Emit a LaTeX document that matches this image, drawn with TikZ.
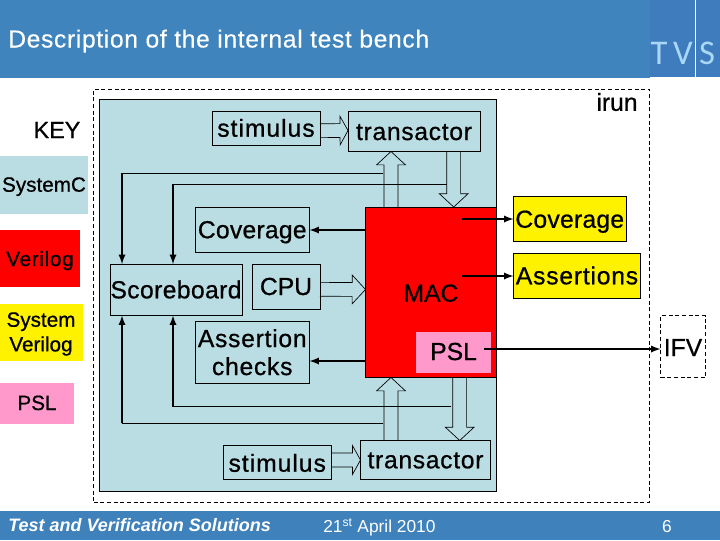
\documentclass[tikz,border=0pt]{standalone}
\usepackage{fontspec}
\setmainfont{Liberation Sans}
\newfontfamily\tvsfont{Carlito}
\newfontfamily\labfont[FakeBold=.7]{Liberation Sans}
\newfontfamily\headfont[FakeBold=.3]{Liberation Sans}
\usetikzlibrary{calc}
\definecolor{headblue}{HTML}{3F84BC}
\definecolor{logoblue}{HTML}{3E7CBE}
\definecolor{footblue}{HTML}{3F81BB}
\definecolor{tvsblue}{HTML}{A9D8F5}
\definecolor{scblue}{HTML}{B9DDE3}
\definecolor{pslpink}{HTML}{FF99CC}
\tikzset{
    sz/.style 2 args={minimum width=#1*.75pt,minimum height=#2*.75pt,inner sep=0pt,outer sep=0pt},
    bl/.style={text height=#1*1.5pt,text depth=0pt},
    txt/.style={font=\labfont\fontsize{18.5}{21}\selectfont,align=center,inner sep=0pt},
    keytxt/.style={font=\labfont\fontsize{15.5}{18.5}\selectfont,align=center,inner sep=0pt},
    box/.style={draw=black,line width=.6pt,txt},
    wire/.style={line width=.9pt},
    tip/.style={line width=1.4pt,-latex},
    hollow/.style={draw=black,line width=.5pt},
    logo/.style={text=tvsblue,font=\tvsfont\fontsize{26}{30}\selectfont,inner sep=0pt}
}
\newcommand{\spaced}[2]{{\addfontfeature{LetterSpace=#1}#2}}
\newcommand{\hollowarrow}[3][10pt]{
    \coordinate (hs) at (#2);
    \coordinate (ht) at (#3);
    \coordinate (hb) at ($(ht)!#1!(hs)$);
    \draw[hollow] ($(hs)!5.2pt!90:(ht)$)--($(hb)!5.2pt!90:(ht)$)--($(hb)!10.8pt!90:(ht)$)--(ht)
        --($(hb)!10.8pt!-90:(ht)$)--($(hb)!5.2pt!-90:(ht)$)--($(hs)!5.2pt!-90:(ht)$);
}
\begin{document}
\begin{tikzpicture}[x=.75pt,y=-.75pt]
        \useasboundingbox (0,0) rectangle (720,540);
        \fill[headblue] (0,0) rectangle (650,78);
        \fill[logoblue] (650,0) rectangle (720,77);
        \draw[white,line width=.6pt] (695,0)--(695,77);
        \fill[footblue] (0,511) rectangle (720,540);
        \node[text=white,font=\headfont\fontsize{18.5}{20}\selectfont,anchor=base west,inner sep=0pt] (title) at (8,47.5) {\spaced{2.6}{Description of the internal test bench}};
        \node[logo] (logoT) at (659,53) {T};
        \node[logo] (logoV) at (683,53) {V};
        \node[logo] (logoS) at (707,53) {S};
        \node[text=white,font=\fontsize{13.5}{16}\selectfont\bfseries\itshape,anchor=base west,inner sep=0pt] (footL) at (8,531) {Test and Verification Solutions};
        \node[text=white,font=\fontsize{13}{16}\selectfont,anchor=base west,inner sep=0pt] (footD) at (323,532) {21\textsuperscript{st} April 2010};
        \node[text=white,font=\fontsize{13}{16}\selectfont,anchor=base,inner sep=0pt] (footN) at (667,532) {6};
        \node[txt,font=\labfont\fontsize{17.5}{20}\selectfont] (keyLbl) at (57,130) {KEY};
        \node[sz={88}{58},fill=scblue,keytxt,bl=6.7] (keyC) at (44,185) {SystemC};
        \node[sz={80}{57},fill=red,keytxt,bl=7.5] (keyV) at (40,258.5) {\spaced{3.4}{Verilog}};
        \node[sz={83}{57},fill=yellow] (keyS) at (41.5,332.5) {};
        \node[keytxt] (keySLbl) at (41,334) {System\\Verilog};
        \node[sz={74}{41},fill=pslpink,keytxt,bl=6.5] (keyP) at (37,403.5) {PSL};
        \node[sz={556}{413},draw=black,line width=.6pt,dash pattern=on 3pt off 2pt] (irun) at (371.5,295.5) {};
        \node[sz={396.5}{391.5},draw=black,line width=.6pt,fill=scblue] (tb) at (297.75,295.25) {};
        \node[txt] (irunLbl) at (617,102) {irun};
        \node[sz={130.5}{170.5},draw=black,line width=.6pt,fill=red] (mac) at (430.75,292.25) {};
        \node[txt,anchor=base] (macLbl) at (431,301.7) {MAC};
        \node[sz={75}{41},fill=pslpink,txt,bl=7.5] (pslIn) at (453.5,352.5) {PSL};
        \node[box,sz={108}{33.5},bl=8.5] (stimA) at (266,128.2) {\spaced{4}{stimulus}};
        \node[box,sz={132}{40},bl=8.5] (transA) at (414,131.5) {\spaced{2.8}{transactor}};
        \node[box,sz={114.5}{45.5},bl=8.5] (covIn) at (252.25,229.75) {\spaced{1}{Coverage}};
        \node[box,sz={132}{51.5},bl=8.5] (sb) at (176,289.8) {\spaced{1.6}{Scoreboard}};
        \node[box,sz={68}{45.5},bl=8.2] (cpu) at (286,286.8) {CPU};
        \node[box,sz={114.5}{61.5}] (chk) at (252.25,352.2) {\spaced{3}{Assertion}\\\spaced{3}{checks}};
        \node[box,sz={108.5}{34},bl=9.2] (stimB) at (277.25,462.5) {\spaced{4}{stimulus}};
        \node[box,sz={130}{39},bl=8.3] (transB) at (425.5,460) {\spaced{2.8}{transactor}};
        \node[box,sz={112.5}{45.5},fill=yellow,bl=9] (covOut) at (569.75,218.75) {\spaced{1}{Coverage}};
        \node[box,sz={127}{45},fill=yellow,bl=8.3] (asrOut) at (577,276) {\spaced{3.2}{Assertions}};
        \node[box,sz={45}{62},dash pattern=on 3pt off 2pt,bl=9.5] (ifv) at (683,346.5) {IFV};
        \coordinate (wireA) at (122,173.3);
        \coordinate (wireAe) at (383,173.3);
        \coordinate (wireB) at (173,184.3);
        \coordinate (wireBe) at (446.7,184.3);
        \coordinate (wireC) at (122,423.3);
        \coordinate (wireCe) at (383,423.3);
        \coordinate (wireD) at (173,406.7);
        \coordinate (wireDe) at (451,406.7);
        \coordinate (tapU) at (391,300);
        \coordinate (tapD) at (453.7,300);
        \coordinate (tapE) at (459.7,300);
        \coordinate (tapCov) at (462,219);
        \coordinate (tapAsr) at (462,276);
        \coordinate (tapPsl) at (484,349);
        \coordinate (tapCovIn) at (366,230);
        \coordinate (tapChk) at (366,361);
        \hollowarrow[6pt]{$(stimA.east)+(0,2.5)$}{$(transA.west)+(0,-1)$}
        \hollowarrow{$(cpu.east)+(0,2.5)$}{mac.west |- 0,289.5}
        \hollowarrow[6pt]{$(stimB.east)+(0,-2.5)$}{transB.west |- 0,460}
        \hollowarrow{tapU |- mac.north}{tapU |- transA.south}
        \hollowarrow{tapD |- transA.south}{tapD |- mac.north}
        \hollowarrow{tapU |- transB.north}{tapU |- mac.south}
        \hollowarrow{tapE |- mac.south}{tapE |- transB.north}
        \draw[wire] (wireAe)--(wireA);
        \draw[wire] (wireBe)--(wireB);
        \draw[wire] (wireCe)--(wireC);
        \draw[wire] (wireDe)--(wireD);
        \draw[tip] (wireA)--(wireA |- sb.north);
        \draw[tip] (wireB)--(wireB |- sb.north);
        \draw[tip] (wireC)--(wireC |- sb.south);
        \draw[tip] (wireD)--(wireD |- sb.south);
        \draw[tip] (tapCovIn)--(covIn.east |- tapCovIn);
        \draw[tip] (tapChk)--(chk.east |- tapChk);
        \draw[tip] (tapCov)--(covOut.west |- tapCov);
        \draw[tip] (tapAsr)--(asrOut.west |- tapAsr);
        \draw[tip] (tapPsl)--(ifv.west |- tapPsl);
    \end{tikzpicture}
\end{document}
